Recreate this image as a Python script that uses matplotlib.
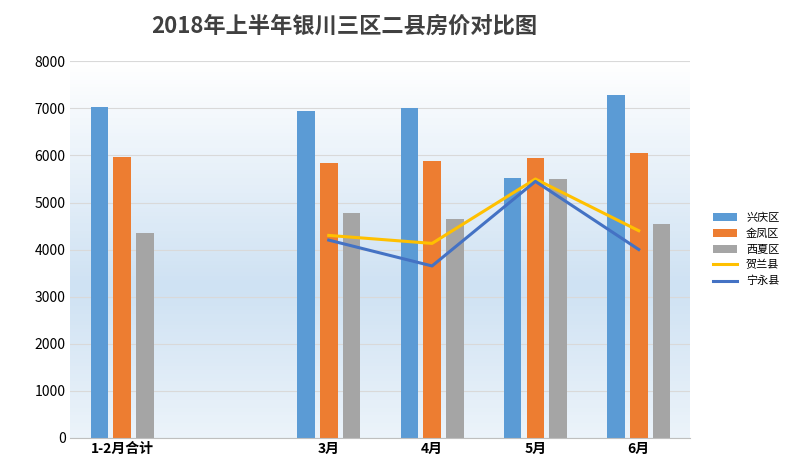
import numpy as np
import matplotlib.pyplot as plt

plt.rcParams['font.family'] = ['Noto Sans CJK SC', 'DejaVu Sans']

months = ['1-2月合计', '', '3月', '4月', '5月', '6月']
xingqing = [7030, np.nan, 6950, 7000, 5520, 7280]
jinfeng = [5960, np.nan, 5850, 5880, 5940, 6050]
xixia = [4350, np.nan, 4780, 4650, 5500, 4540]
helan = [np.nan, np.nan, 4300, 4130, 5500, 4400]
yongning = [np.nan, np.nan, 4200, 3650, 5450, 4000]

fig = plt.figure(figsize=(8, 4.73), dpi=100)
ax = fig.add_axes([0.088, 0.075, 0.775, 0.795])

# soft blue gradient background
grad = np.concatenate([np.linspace(1, 0, 60), np.linspace(0, 0.6, 40)])[:, None]
ax.imshow(grad, extent=[-0.5, 5.5, 0, 8000], aspect='auto', cmap=plt.matplotlib.colors.LinearSegmentedColormap.from_list('bg', ['#cfe2f3', '#ffffff']), origin='upper', zorder=0)

x = np.arange(len(months))
w, d = 0.17, 0.22
b1 = ax.bar(x - d, xingqing, w, color='#5b9bd5', label='兴庆区', zorder=2)
b2 = ax.bar(x, jinfeng, w, color='#ed7d31', label='金凤区', zorder=2)
b3 = ax.bar(x + d, xixia, w, color='#a5a5a5', label='西夏区', zorder=2)
l1, = ax.plot(x, helan, color='#ffc000', lw=2.2, label='贺兰县', zorder=3)
l2, = ax.plot(x, yongning, color='#4472c4', lw=2.2, label='宁永县', zorder=3)

ax.set_xlim(-0.5, 5.5)
ax.set_ylim(0, 8000)
ax.set_yticks(range(0, 8001, 1000))
ax.set_xticks(x)
ax.set_xticklabels(months, fontsize=10, fontweight='bold')
ax.tick_params(length=0, labelsize=10)
ax.grid(axis='y', color='#d9d9d9', lw=0.8, zorder=1)
for s in ['top', 'right', 'left']:
    ax.spines[s].set_visible(False)
ax.spines['bottom'].set_color('#bfbfbf')

fig.text(0.43, 0.945, '2018年上半年银川三区二县房价对比图', ha='center', va='center',
         fontsize=16, fontweight='bold', color='#404040')
ax.legend(handles=[b1, b2, b3, l1, l2], loc='center left', bbox_to_anchor=(1.02, 0.5),
          frameon=False, fontsize=8, handlelength=2.2)

fig.savefig('out.png', dpi=100)
